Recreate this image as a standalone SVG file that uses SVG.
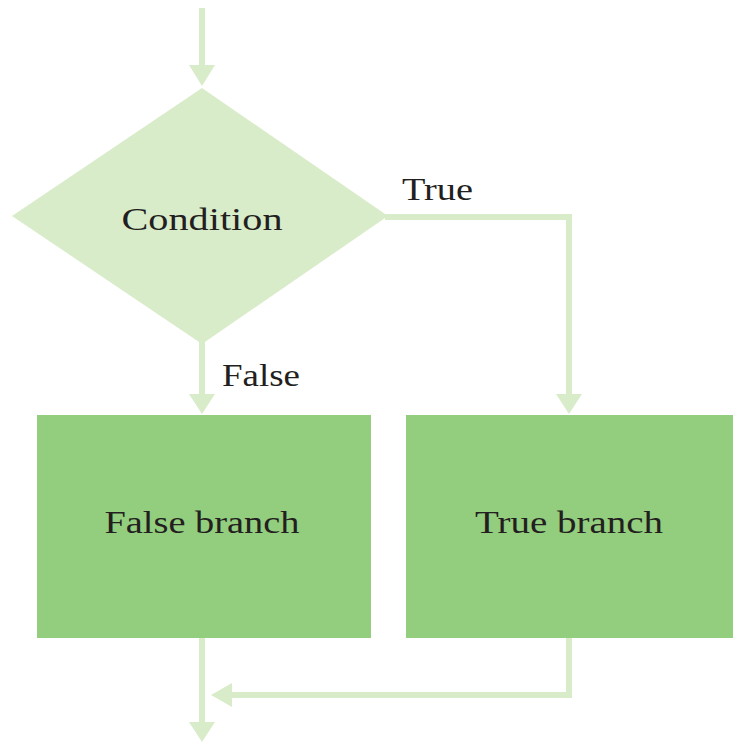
<svg xmlns="http://www.w3.org/2000/svg" width="733" height="742" viewBox="0 0 733 742">
<style>
.ln{fill:none;stroke:#d9ecca;stroke-width:6}
.ah{fill:#d9ecca}
.box{fill:#93cd7e}
.dia{fill:#d9ecca}
.t{font-family:"Liberation Serif","Times New Roman",serif;font-size:32px;fill:#231f20}
</style>
<rect width="733" height="742" fill="#ffffff"/>
<g id="connectors">
<path class="ln" d="M202 8V70"/>
<polygon class="ah" points="189,65 215,65 202,86"/>
<path class="ln" d="M202 340V397"/>
<polygon class="ah" points="189,394 215,394 202,414"/>
<path class="ln" d="M385 217H569V397"/>
<polygon class="ah" points="556,394 582,394 569,414"/>
<path class="ln" d="M202 638V725"/>
<polygon class="ah" points="189,722 215,722 202,742"/>
<path class="ln" d="M569 638V695H228"/>
<polygon class="ah" points="232,683 232,707 211,695"/>
</g>
<g id="condition">
<polygon class="dia" points="202,88 388,216 202,344 12,216"/>
<text class="t" x="202" y="230" text-anchor="middle" textLength="161" lengthAdjust="spacingAndGlyphs">Condition</text>
</g>
<g id="label-true">
<text class="t" x="402" y="200" textLength="71" lengthAdjust="spacingAndGlyphs">True</text>
</g>
<g id="label-false">
<text class="t" x="222" y="386" textLength="78" lengthAdjust="spacingAndGlyphs">False</text>
</g>
<g id="false-branch">
<rect class="box" x="37" y="415" width="334" height="223"/>
<text class="t" x="202" y="533" text-anchor="middle" textLength="195" lengthAdjust="spacingAndGlyphs">False branch</text>
</g>
<g id="true-branch">
<rect class="box" x="406" y="415" width="327" height="223"/>
<text class="t" x="569" y="533" text-anchor="middle" textLength="188" lengthAdjust="spacingAndGlyphs">True branch</text>
</g>
</svg>
